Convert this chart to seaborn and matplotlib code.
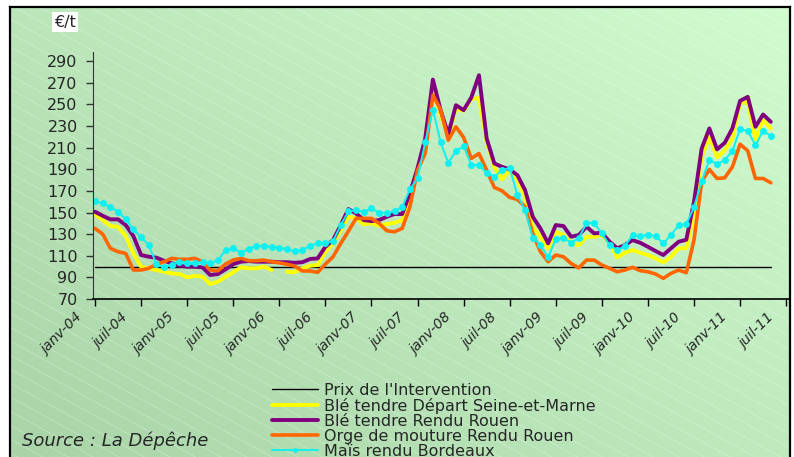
import numpy as np
import pandas as pd
import matplotlib
matplotlib.use("Agg")
import matplotlib.pyplot as plt
import matplotlib.transforms as mtransforms
from matplotlib.lines import Line2D
import seaborn as sns

# monthly prices in EUR/t, janv-04 .. mai-11
tick_labels = ["janv-04", "juil-04", "janv-05", "juil-05", "janv-06", "juil-06",
               "janv-07", "juil-07", "janv-08", "juil-08", "janv-09", "juil-09",
               "janv-10", "juil-10", "janv-11", "juil-11"]

intervention_price = 100.0

ble_seine_marne = [148.3, 143.0, 137.5, 136.8, 128.2, 112.2, 99.9, 98.4, 96.8, 95.2,
                   93.7, 93.1, 90.1, 91.3, 90.6, 83.9, 86.0, 90.6, 94.7, 99.3,
                   98.4, 98.4, 99.9, 96.8, np.nan, 95.2, 94.7, 98.4, 100.8, 101.4,
                   113.7, 121.5, 133.8, 146.1, 144.6, 139.0, 140.0, 137.7, 139.3, 140.5,
                   143.0, 163.1, 189.2, 215.0, 262.0, 240.0, 220.0, 246.0, 244.0, 255.0,
                   256.0, 215.0, 192.0, 180.6, 189.2, 180.0, 164.6, 136.8, 127.6, 116.9,
                   132.2, 129.2, 121.5, 119.9, 127.6, 127.6, 129.2, 122.0, 108.5, 112.8,
                   115.3, 112.8, 110.7, 107.6, 103.9, 109.1, 116.9, 116.9, 149.2, 201.5,
                   220.0, 201.0, 207.7, 218.5, 250.9, 252.3, 217.6, 235.4, 227.8]

ble_rouen = [150.7, 147.0, 143.7, 143.7, 138.4, 128.2, 110.7, 109.1, 108.2, 105.4,
             103.0, 100.8, 99.9, 99.9, 99.3, 92.2, 93.1, 97.4, 102.3, 104.5,
             105.1, 104.5, 104.5, 104.5, 104.0, 104.0, 103.5, 104.0, 107.0, 107.6,
             118.3, 124.5, 138.4, 153.2, 149.2, 143.0, 142.1, 143.0, 146.1, 148.6,
             148.6, 167.7, 191.0, 218.5, 273.0, 244.7, 222.5, 249.3, 244.7, 256.4,
             277.0, 218.5, 195.4, 192.3, 189.9, 184.6, 170.7, 146.1, 135.3, 121.5,
             138.4, 137.5, 127.6, 129.2, 136.8, 130.7, 131.3, 123.0, 116.9, 119.9,
             124.5, 122.0, 118.3, 114.4, 110.7, 116.9, 123.0, 124.8, 159.9, 209.3,
             227.8, 208.4, 214.5, 227.8, 253.3, 257.0, 229.3, 240.7, 233.9]

orge_rouen = [135.3, 130.1, 116.9, 113.7, 112.2, 96.8, 96.8, 98.4, 102.1, 104.5,
              107.6, 106.7, 106.7, 107.6, 104.5, 96.8, 96.2, 102.3, 106.0, 107.6,
              105.4, 105.4, 106.0, 104.5, 103.5, 102.1, 100.5, 95.9, 95.9, 94.7,
              102.3, 109.1, 121.5, 132.8, 144.6, 144.6, 144.6, 140.0, 133.1, 132.2,
              135.3, 155.0, 189.2, 204.6, 258.5, 245.3, 217.0, 229.3, 219.4, 200.0,
              204.6, 189.2, 173.2, 170.1, 164.0, 162.1, 155.3, 130.7, 113.7, 104.5,
              110.7, 109.1, 102.8, 98.8, 106.0, 106.0, 101.4, 98.4, 95.2, 96.8,
              99.3, 96.2, 95.2, 93.1, 89.1, 93.7, 96.8, 94.3, 124.5, 178.4,
              189.9, 181.5, 182.1, 192.3, 213.2, 207.1, 181.5, 181.5, 177.5]

mais_bordeaux = [160.8, 158.4, 155.3, 150.7, 143.9, 134.4, 127.0, 119.9, 102.1, 99.3,
                 101.7, 104.2, 103.5, 103.0, 104.2, 103.0, 106.0, 115.3, 117.4, 112.8,
                 116.5, 119.0, 119.2, 118.0, 117.6, 116.0, 114.2, 115.3, 119.3, 121.5,
                 121.5, 123.6, 138.4, 151.0, 152.3, 150.7, 153.8, 149.8, 149.8, 151.3,
                 155.0, 171.4, 181.6, 215.1, 245.3, 215.1, 196.0, 206.8, 211.4, 193.8,
                 193.8, 186.7, 183.0, 189.2, 191.3, 166.1, 152.3, 126.7, 119.9, 108.5,
                 125.5, 126.7, 122.0, 126.5, 140.2, 140.2, 130.7, 119.9, 115.3, 119.0,
                 129.2, 128.2, 129.2, 128.2, 121.5, 129.2, 138.1, 139.3, 155.0, 179.3,
                 198.5, 194.8, 198.5, 207.1, 227.1, 225.5, 212.3, 225.5, 220.9]

n = len(ble_rouen)
series = [
    ("Prix de l'Intervention", [intervention_price] * n, "black", 1.0, None),
    ("Blé tendre Départ Seine-et-Marne", ble_seine_marne, "#ffff00", 2.8, None),
    ("Blé tendre Rendu Rouen", ble_rouen, "#800080", 2.8, None),
    ("Orge de mouture Rendu Rouen", orge_rouen, "#ff6600", 2.6, None),
    ("Maïs rendu Bordeaux", mais_bordeaux, "#11f0f0", 1.4, "o"),
]

sns.set_style("ticks")
plt.rcParams["font.family"] = ["DejaVu Sans"]

W, H = 794, 457
fig = plt.figure(figsize=(W / 100, H / 100), dpi=100)
fx = lambda px: px / W
fy = lambda py: 1 - py / H

# background panel: diagonal green gradient with faint white stripes
bg = fig.add_axes([fx(10), 0, fx(790) - fx(10), fy(7)], zorder=0)
xs = np.linspace(0, 1, 200)
ys = np.linspace(0, 1, 120)
t = 0.55 * xs[None, :] + 0.45 * (1 - ys[:, None])
c0 = np.array([168, 212, 168]) / 255
c1 = np.array([208, 252, 208]) / 255
img = c0[None, None, :] + (c1 - c0)[None, None, :] * t[:, :, None]
bg.imshow(img, extent=[0, 780, 450, 0], aspect="auto")
for c in np.arange(-450, 460, 14):
    bg.plot([0, 780], [c, c + 0.55 * 780], color="white", alpha=0.3, lw=0.6)
bg.set_xlim(0, 780)
bg.set_ylim(450, 0)
bg.set_xticks([])
bg.set_yticks([])
for side in ["left", "top", "right"]:
    bg.spines[side].set_color("black")
    bg.spines[side].set_linewidth(1.6)
bg.spines["bottom"].set_visible(False)

ax = fig.add_axes([fx(93), fy(299), fx(790) - fx(93), fy(52) - fy(299)], zorder=1)
ax.patch.set_alpha(0)

handles = []
for name, vals, color, lw, marker in series:
    df = pd.DataFrame({"idx": np.arange(n), "price": vals})
    df["part"] = df["price"].isna().cumsum()
    df = df.dropna()
    sns.lineplot(data=df, x="idx", y="price", units="part", estimator=None,
                 color=color, lw=lw, marker=marker, markersize=5,
                 markeredgewidth=0, ax=ax)
    handles.append(Line2D([], [], color=color, lw=lw, marker=marker,
                          markersize=3.5, markeredgewidth=0))

ax.set_xlim(-0.26, 90.5)
ax.set_ylim(70, 298.5)
ax.set_yticks(range(70, 291, 20))
ax.set_xticks(range(0, 91, 6))
ax.set_xticklabels(tick_labels, rotation=45, ha="right", va="top",
                   rotation_mode="anchor", fontstyle="italic", fontsize=10)
ax.set_xlabel("")
ax.set_ylabel("")
ax.tick_params(axis="y", length=5, width=1, color="#333333", labelsize=11.5, pad=6)
ax.tick_params(axis="x", length=5, width=1, color="black", pad=3)
shift = mtransforms.ScaledTranslation(-14 / 72, 0, fig.dpi_scale_trans)
for lab in ax.get_xticklabels():
    lab.set_transform(lab.get_transform() + shift)
ax.spines["top"].set_visible(False)
ax.spines["right"].set_visible(False)
ax.spines["left"].set_color("#333333")
ax.spines["bottom"].set_color("black")
ax.spines["bottom"].set_linewidth(1.2)

fig.text(fx(65), fy(22), "€/t", ha="center", va="center", fontsize=11.5,
         bbox=dict(facecolor="white", edgecolor="none", pad=1.5))
fig.text(fx(22), fy(441), "Source : La Dépêche", fontstyle="italic",
         fontsize=13, va="center")

fig.legend(handles, [s[0] for s in series], loc="upper left",
           bbox_to_anchor=(fx(272), fy(383)), frameon=False, fontsize=11.5,
           handlelength=2.85, handletextpad=0.4, labelspacing=0.0,
           borderpad=0, borderaxespad=0)

fig.savefig("out.png", dpi=100)
